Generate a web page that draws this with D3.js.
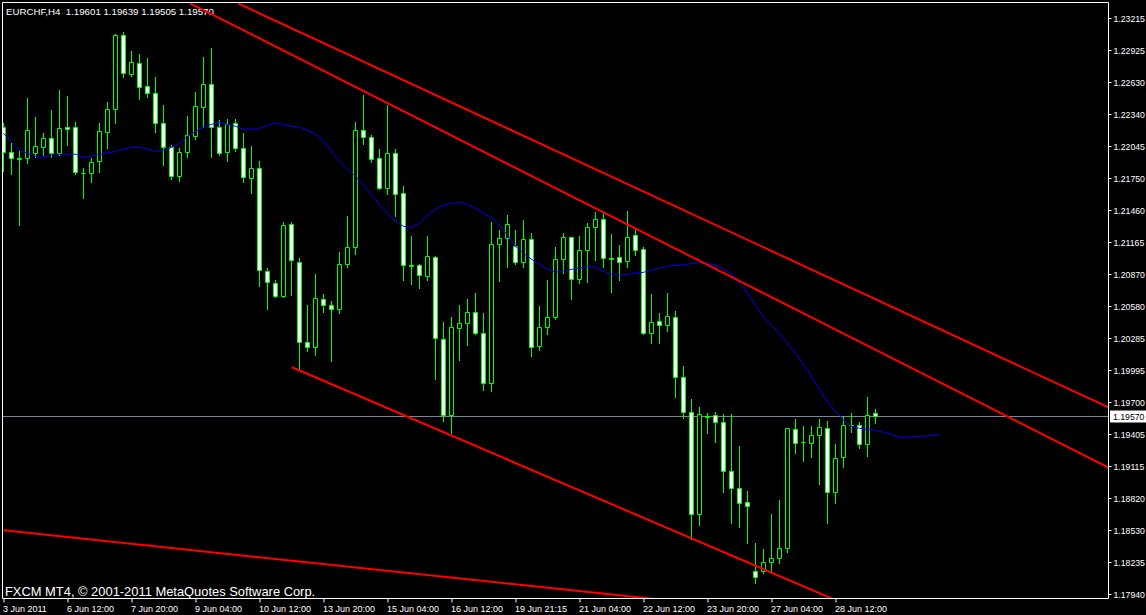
<!DOCTYPE html>
<html><head><meta charset="utf-8">
<script src="https://cdn.jsdelivr.net/npm/d3@7"></script>
<style>html,body{margin:0;padding:0;background:#000;overflow:hidden}</style>
</head><body>
<svg id="c" width="1146" height="615"></svg>
<script>
// ---------------- DATA ----------------
const symbol = "EURCHF,H4";
const lastOHLC = [1.19601, 1.19639, 1.19505, 1.19570];
const copyright = "FXCM MT4, \u00A9 2001-2011 MetaQuotes Software Corp.";

const opens = [
1.22217,1.21988,1.21933,1.21933,1.21979,1.22034,1.22116,1.21979,1.22217,1.22217,
1.21796,1.21796,1.21905,1.22171,1.22382,1.23059,1.22702,1.22803,1.22592,1.22528,
1.22253,1.22034,1.21768,1.21988,1.22134,1.22400,1.22611,1.22217,1.21988,1.22253,
1.22024,1.21750,1.21841,1.20898,1.20788,1.20669,1.21328,1.20980,1.20248,1.20202,
1.20642,1.20587,1.20550,1.20962,1.21118,1.22189,1.22125,1.21933,1.21658,1.21979,
1.21612,1.20953,1.20953,1.20852,1.21026,1.20275,1.19579,1.20376,1.20422,1.20523,
1.20330,1.19872,1.21145,1.21200,1.21127,1.20980,1.21191,1.20211,1.20385,1.20477,
1.21008,1.21209,1.20825,1.21090,1.21301,1.21374,1.21017,1.21026,1.20990,1.21228,
1.21100,1.20330,1.20440,1.20404,1.20477,1.19927,1.19607,1.18673,1.19570,1.19579,
1.19515,1.19066,1.18911,1.18783,1.18151,1.18151,1.18233,1.18270,1.18361,1.19451,
1.19332,1.19323,1.19396,1.19460,1.18874,1.19195,1.19488,1.19488,1.19314,1.19601];
const highs = [
1.22253,1.22070,1.21997,1.22482,1.22308,1.22162,1.22372,1.22556,1.22501,1.22263,
1.21841,1.21933,1.22253,1.22446,1.23068,1.23087,1.22913,1.22885,1.22849,1.22675,
1.22418,1.22052,1.22024,1.22318,1.22537,1.22858,1.22940,1.22281,1.22290,1.22290,
1.22162,1.22043,1.21905,1.20926,1.20816,1.21347,1.21347,1.21017,1.20587,1.20871,
1.20687,1.20623,1.21072,1.21402,1.22263,1.22510,1.22144,1.22015,1.22418,1.22015,
1.21676,1.21219,1.20962,1.21219,1.21035,1.20431,1.20477,1.20587,1.20642,1.20697,
1.20513,1.21347,1.21274,1.21411,1.21274,1.21365,1.21246,1.20578,1.20816,1.21118,
1.21246,1.21209,1.21219,1.21338,1.21438,1.21438,1.21237,1.21136,1.21448,1.21292,
1.21118,1.20687,1.20513,1.20697,1.20532,1.20028,1.19726,1.19653,1.19598,1.19607,
1.19588,1.19588,1.19295,1.18883,1.18407,1.18352,1.18673,1.18801,1.19460,1.19543,
1.19479,1.19479,1.19543,1.19524,1.19314,1.19570,1.19598,1.19515,1.19744,1.19639];
const lows = [
1.21814,1.21786,1.21319,1.21887,1.21942,1.21960,1.21942,1.21960,1.22052,1.21786,
1.21567,1.21713,1.21805,1.22024,1.22253,1.22675,1.22684,1.22473,1.22492,1.22171,
1.21869,1.21741,1.21722,1.21942,1.22107,1.22217,1.21942,1.21960,1.21905,1.21997,
1.21713,1.21612,1.20761,1.20550,1.20660,1.20665,1.20678,1.20001,1.20165,1.20129,
1.20523,1.20074,1.20513,1.20935,1.21054,1.22061,1.21896,1.21649,1.21603,1.21402,
1.20816,1.20779,1.20742,1.20816,1.19909,1.19524,1.19414,1.20083,1.20220,1.20321,
1.19808,1.19799,1.20806,1.20935,1.20962,1.20935,1.20120,1.20175,1.20321,1.20458,
1.20880,1.20642,1.20788,1.20797,1.20999,1.20935,1.20706,1.20816,1.20935,1.21045,
1.20325,1.20239,1.20239,1.20349,1.19744,1.19552,1.18444,1.18572,1.19414,1.19332,
1.18874,1.18590,1.18554,1.18407,1.18041,1.18132,1.18141,1.18224,1.18325,1.19231,
1.19158,1.19195,1.18947,1.18590,1.18773,1.19103,1.19424,1.19277,1.19204,1.19505];
const closes = [
1.21988,1.21933,1.21930,1.22189,1.22043,1.22116,1.21979,1.22208,1.22198,1.21805,
1.21799,1.21896,1.22180,1.22382,1.23059,1.22711,1.22812,1.22583,1.22528,1.22253,
1.22034,1.21768,1.21988,1.22144,1.22409,1.22611,1.22217,1.21979,1.22244,1.22024,
1.21759,1.21841,1.20907,1.20797,1.20669,1.21319,1.20999,1.20248,1.20202,1.20651,
1.20587,1.20550,1.20962,1.21118,1.22189,1.22125,1.21924,1.21658,1.21979,1.21603,
1.20953,1.20950,1.20861,1.21035,1.20284,1.19579,1.20385,1.20422,1.20523,1.20330,
1.19872,1.21145,1.21200,1.21328,1.20980,1.21191,1.20202,1.20385,1.20477,1.21008,
1.21209,1.20825,1.21090,1.21301,1.21374,1.21017,1.21014,1.20980,1.21209,1.21090,
1.20330,1.20431,1.20404,1.20486,1.19927,1.19607,1.18673,1.19588,1.19567,1.19515,
1.19066,1.18911,1.18773,1.18746,1.18096,1.18233,1.18270,1.18361,1.19460,1.19323,
1.19335,1.19396,1.19469,1.18874,1.19185,1.19488,1.19491,1.19314,1.19579,1.19570];

// Moving average, displayed shifted forward (values at bar positions 0..117)
const maValues = [
1.22162,1.22079,1.22006,1.21979,1.21951,1.21942,1.21960,1.21970,1.21970,1.21970,
1.21942,1.21951,1.21970,1.21979,1.21997,1.22015,1.22034,1.22034,1.22015,1.21997,
1.22006,1.22034,1.22070,1.22134,1.22180,1.22217,1.22244,1.22263,1.22244,1.22226,
1.22198,1.22198,1.22208,1.22235,1.22253,1.22244,1.22226,1.22217,1.22189,1.22153,
1.22089,1.21997,1.21905,1.21832,1.21768,1.21686,1.21594,1.21512,1.21429,1.21356,
1.21310,1.21301,1.21338,1.21411,1.21466,1.21503,1.21521,1.21530,1.21512,1.21475,
1.21429,1.21393,1.21319,1.21228,1.21127,1.21063,1.21008,1.20962,1.20916,1.20889,
1.20898,1.20916,1.20926,1.20944,1.20935,1.20898,1.20871,1.20861,1.20871,1.20880,
1.20889,1.20907,1.20926,1.20944,1.20953,1.20953,1.20971,1.20980,1.20971,1.20953,
1.20916,1.20880,1.20788,1.20697,1.20587,1.20477,1.20404,1.20330,1.20239,1.20147,
1.20046,1.19936,1.19817,1.19698,1.19616,1.19534,1.19479,1.19460,1.19451,1.19442,
1.19424,1.19405,1.19378,1.19378,1.19387,1.19387,1.19396,1.19396];

const priceTicks = [1.23215,1.22925,1.22630,1.22340,1.22045,1.21750,1.21460,1.21165,1.20870,
  1.20580,1.20285,1.19995,1.19700,1.19405,1.19115,1.18820,1.18530,1.18235,1.17940];
const timeLabels = ["3 Jun 2011","6 Jun 12:00","7 Jun 20:00","9 Jun 04:00","10 Jun 12:00",
  "13 Jun 20:00","15 Jun 04:00","16 Jun 12:00","19 Jun 21:15","21 Jun 04:00","22 Jun 12:00",
  "23 Jun 20:00","27 Jun 04:00","28 Jun 12:00"];
const timeLabelBars = [0,8,16,24,32,40,48,56,64,72,80,88,96,104];

// Trend lines: [barIndex, price] anchor pairs (rays to the right)
const trendUpper = [[29.31, 1.23352], [137.81, 1.19662]];
const trendMiddle = [[23.31, 1.23352], [137.81, 1.19112]];
const trendLower = [[36.06, 1.20019], [79.56, 1.18654]];
const trendBottom = [[0, 1.18526], [71, 1.17977]];

// ---------------- DRAW ----------------
const W = 1146, H = 615;
const L = 2, T = 2, R = 1108, B = 598;
const svg = d3.select("#c");
svg.append("rect").attr("width", W).attr("height", H).attr("fill", "#000");

const x = d3.scaleLinear().domain([0, 1]).range([3.5, 11.5]);
const y = d3.scaleLinear().domain([1.17940, 1.23215]).range([594.3, 18.3]);
const py = v => Math.round(y(v)) + 0.5;

svg.append("defs").append("clipPath").attr("id", "clip")
  .append("rect").attr("x", L).attr("y", T).attr("width", R - L).attr("height", B - T);

const font = "'Liberation Sans', Arial, sans-serif";

// title
svg.append("text").attr("x", 6).attr("y", 15)
  .attr("fill", "#fff").attr("font-family", font).attr("font-size", 9.7)
  .style("white-space", "pre")
  .text(symbol + "  " + lastOHLC.map(v => v.toFixed(5)).join(" "));

const plot = svg.append("g").attr("clip-path", "url(#clip)");

// current price line
plot.append("line").attr("x1", L).attr("x2", R)
  .attr("y1", py(lastOHLC[3])).attr("y2", py(lastOHLC[3]))
  .attr("stroke", "#778899").attr("stroke-width", 1);

// candles
const bars = d3.range(opens.length);
const cg = plot.append("g");
cg.selectAll("line.w").data(bars).join("line")
  .attr("x1", i => x(i)).attr("x2", i => x(i))
  .attr("y1", i => py(highs[i]) - 0.5).attr("y2", i => py(lows[i]) + 0.5)
  .attr("stroke", "#00ff00").attr("stroke-width", 1);
cg.selectAll("path.b").data(bars).join("path")
  .attr("d", i => {
    const a = py(opens[i]), b = py(closes[i]);
    const t = Math.min(a, b), bt = Math.max(a, b);
    const x0 = x(i) - 2, x1 = x(i) + 2;
    return `M${x0},${t}H${x1}V${bt}H${x0}Z`;
  })
  .attr("fill", i => closes[i] > opens[i] ? "#000" : "#fff")
  .attr("stroke", "#00ff00").attr("stroke-width", 1);

// moving average
plot.append("path").datum(maValues)
  .attr("d", d3.line().x((d, j) => x(j)).y(d => y(d)))
  .attr("fill", "none").attr("stroke", "#0000ff").attr("stroke-width", 1);

// trend lines
const tl = plot.append("g");
[trendUpper, trendMiddle, trendLower, trendBottom].forEach(tr => {
  const [[i1, p1], [i2, p2]] = tr;
  const x1 = x(i1), y1 = y(p1), x2 = x(i2), y2 = y(p2);
  const k = (y2 - y1) / (x2 - x1);
  const xe = 1300;
  tl.append("line").attr("x1", x1).attr("y1", y1).attr("x2", xe).attr("y2", y1 + k * (xe - x1))
    .attr("stroke", "#ff0000").attr("stroke-width", 2);
});

// copyright
svg.append("text").attr("x", 5).attr("y", 596)
  .attr("fill", "#fff").attr("font-family", font).attr("font-size", 12.9)
  .text(copyright);

// frame
svg.append("path").attr("d", `M${L + 0.5},${B + 0.5}V${T + 0.5}H${R + 0.5}V${B + 0.5}H${L + 0.5}`)
  .attr("fill", "none").attr("stroke", "#fff").attr("stroke-width", 1);

// right axis
const ra = svg.append("g").attr("transform", `translate(${R + 0.5},0)`)
  .call(d3.axisRight(y).tickValues(priceTicks).tickSize(3).tickPadding(2)
    .tickFormat(d3.format(".5f")));
ra.select(".domain").remove();
ra.selectAll(".tick").attr("transform", d => `translate(0,${py(d)})`);
ra.selectAll("line").attr("stroke", "#fff");
ra.selectAll("text").attr("fill", "#fff").attr("font-family", font).attr("font-size", 8.7)
  .attr("dy", "0.36em");

// current price label
const cy = py(lastOHLC[3]);
svg.append("rect").attr("x", R + 2).attr("y", cy - 6).attr("width", W - R - 2).attr("height", 12).attr("fill", "#fff");
svg.append("text").attr("x", R + 5).attr("y", cy).attr("dy", "0.36em")
  .attr("fill", "#000").attr("font-family", font).attr("font-size", 8.7)
  .text(lastOHLC[3].toFixed(5));

// bottom axis
const ba = svg.append("g").attr("transform", `translate(0,${B + 0.5})`)
  .call(d3.axisBottom(x).tickValues(timeLabelBars).tickSize(4).tickPadding(3)
    .tickFormat((d, i) => timeLabels[i]));
ba.select(".domain").remove();
ba.selectAll("line").attr("stroke", "#fff");
ba.selectAll("text").attr("fill", "#fff").attr("font-family", font).attr("font-size", 9)
  .attr("text-anchor", "start").attr("x", -1);
</script>
</body></html>
